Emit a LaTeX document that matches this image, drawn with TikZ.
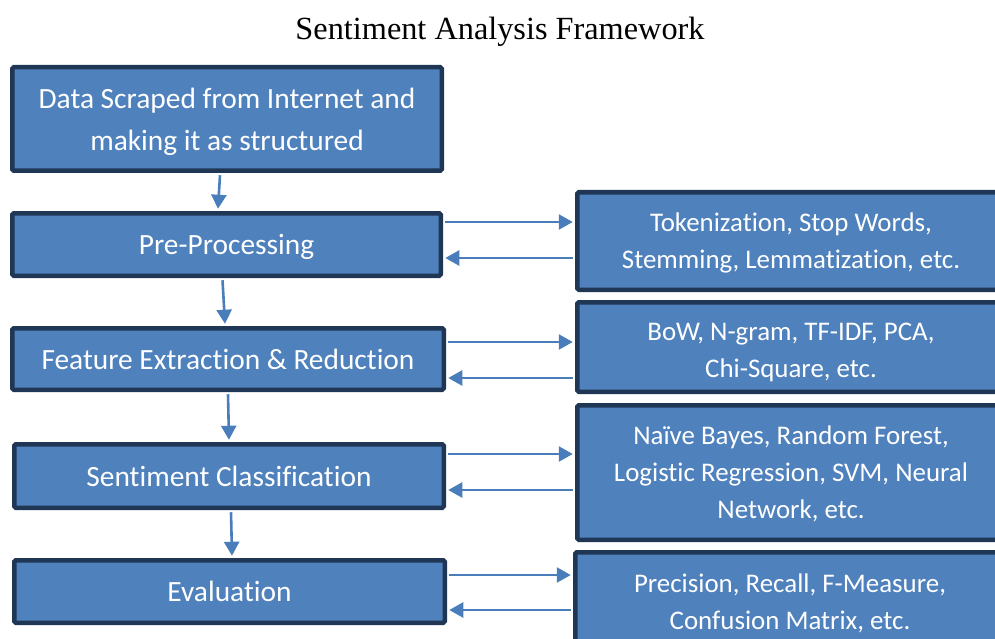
\documentclass[tikz,border=0pt]{standalone}
\usepackage{fontspec}
\setmainfont{Liberation Serif}
\newfontfamily\boxfont[Ligatures=NoCommon]{Carlito}
\usetikzlibrary{arrows.meta}
\definecolor{boxfill}{HTML}{4F81BD}
\definecolor{boxline}{HTML}{1F3654}
\definecolor{arrowblue}{HTML}{4A7EBB}
% centred lines, set #1 lower than their box
\newcommand{\lowlines}[2]{\raisebox{-#1}[\height][\depth]{\begin{tabular}{@{}c@{}}#2\end{tabular}}}
\tikzset{
  stagebox/.style={draw=boxline, fill=boxfill, line width=4.5pt, rounded corners=1.5pt,
    text=white, align=center, inner sep=0pt,
    font=\boxfont\fontsize{29.4}{42}\selectfont},
  toolbox/.style={stagebox, font=\boxfont\fontsize{26.9}{37}\selectfont},
  flow/.style={draw=arrowblue, line width=2.6pt,
    -{Triangle[length=14pt,width=15pt]}},
}
\begin{document}
\begin{tikzpicture}[x=1pt,y=-1pt]
\clip (0,0) rectangle (995,639);
\fill[white] (0,0) rectangle (995,639);

\node[font=\fontsize{32.3}{38}\selectfont] (title) at (500,32) {Sentiment Analysis Framework};

% main pipeline
\node[stagebox, minimum width=429.5pt, minimum height=103.5pt] (data) at (227,119)
  {\lowlines{2pt}{Data Scraped from Internet and\\making it as structured}};
\node[stagebox, minimum width=428.5pt, minimum height=62.5pt] (pre) at (226.5,244.5) {\lowlines{1.5pt}{Pre-Processing}};
\node[stagebox, minimum width=431.5pt, minimum height=61.5pt] (feat) at (228,359) {Feature Extraction \& Reduction};
\node[stagebox, minimum width=429.5pt, minimum height=63.5pt] (cls) at (229,476) {Sentiment Classification};
\node[stagebox, minimum width=430.5pt, minimum height=62.5pt] (eval) at (229.5,591.5) {Evaluation};

% technique boxes
\node[toolbox, minimum width=427.5pt, minimum height=97.5pt] (tpre) at (791,241)
  {\lowlines{2pt}{Tokenization, Stop Words,\\Stemming, Lemmatization, etc.}};
\node[toolbox, minimum width=427.5pt, minimum height=89.5pt] (tfeat) at (791,347)
  {\lowlines{5pt}{BoW, N-gram, TF-IDF, PCA,\\Chi-Square, etc.}};
\node[toolbox, minimum width=427.5pt, minimum height=134.5pt] (tcls) at (791,472.5)
  {\lowlines{2pt}{Naïve Bayes, Random Forest,\\Logistic Regression, SVM, Neural\\Network, etc.}};
\node[toolbox, minimum width=429.5pt, minimum height=98.5pt] (teval) at (790,601.5)
  {\lowlines{2pt}{Precision, Recall, F-Measure,\\Confusion Matrix, etc.}};

% downward flow
\draw[flow] ([xshift=-7pt,yshift=-2.25pt]data.south) -- ([xshift=-8.5pt,yshift=2.25pt]pre.north);
\draw[flow] ([xshift=-4pt,yshift=-2.25pt]pre.south) -- ([xshift=-3pt,yshift=2.25pt]feat.north);
\draw[flow] ([xshift=0pt,yshift=-2.25pt]feat.south) -- ([xshift=0pt,yshift=2.25pt]cls.north);
\draw[flow] ([xshift=2pt,yshift=-2.25pt]cls.south) -- ([xshift=2.5pt,yshift=2.25pt]eval.north);

% exchanges with the technique boxes
\draw[flow] ([xshift=2.25pt]pre.east |- 0,222) -- ([xshift=-2.25pt]tpre.west |- 0,222);
\draw[flow] ([xshift=-2.25pt]tpre.west |- 0,258) -- ([xshift=2.25pt]pre.east |- 0,258);
\draw[flow] ([xshift=2.25pt]feat.east |- 0,342) -- ([xshift=-2.25pt]tfeat.west |- 0,342);
\draw[flow] ([xshift=-2.25pt]tfeat.west |- 0,378) -- ([xshift=2.25pt]feat.east |- 0,378);
\draw[flow] ([xshift=2.25pt]cls.east |- 0,454) -- ([xshift=-2.25pt]tcls.west |- 0,454);
\draw[flow] ([xshift=-2.25pt]tcls.west |- 0,490) -- ([xshift=2.25pt]cls.east |- 0,490);
\draw[flow] ([xshift=2.25pt]eval.east |- 0,575) -- ([xshift=-2.25pt]teval.west |- 0,575);
\draw[flow] ([xshift=-2.25pt]teval.west |- 0,610) -- ([xshift=2.25pt]eval.east |- 0,610);
\end{tikzpicture}
\end{document}
